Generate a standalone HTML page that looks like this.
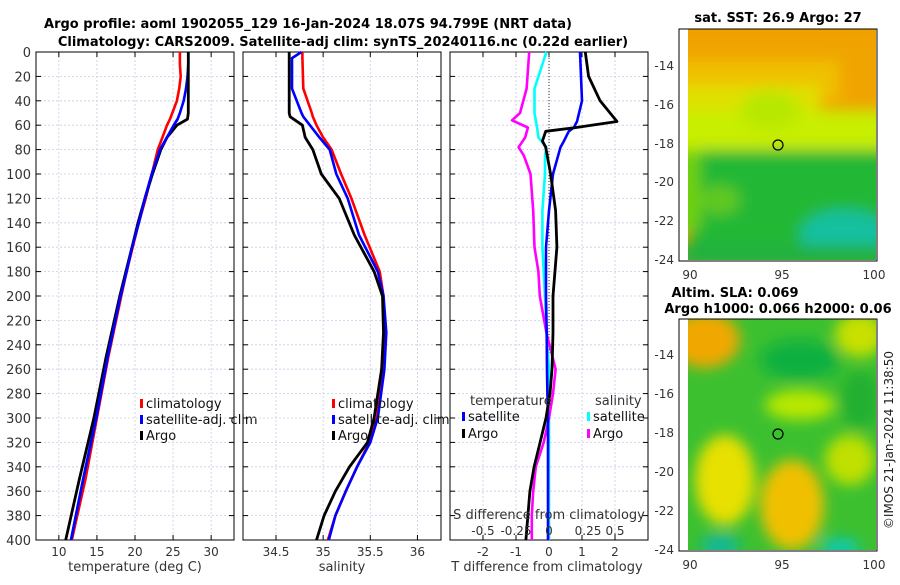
<!DOCTYPE html>
<html><head><meta charset="utf-8"><style>
body{margin:0;background:#fff;}
svg text{font-family:"DejaVu Sans","Liberation Sans",sans-serif;}
</style></head><body>
<svg id="s" width="900" height="580" xmlns="http://www.w3.org/2000/svg">
<defs>
<filter id="bl" x="-50%" y="-50%" width="200%" height="200%"><feGaussianBlur stdDeviation="7"/></filter>
<clipPath id="c1"><rect x="688" y="29" width="188" height="231"/></clipPath>
<clipPath id="c2"><rect x="688" y="319" width="188" height="231"/></clipPath>
</defs>
<text x="308" y="28" text-anchor="middle" font-size="13" font-weight="bold">Argo profile: aoml 1902055_129 16-Jan-2024 18.07S 94.799E (NRT data)</text>
<text x="343" y="46" text-anchor="middle" font-size="13" font-weight="bold">Climatology: CARS2009. Satellite-adj clim: synTS_20240116.nc (0.22d earlier)</text>
<g id="p"></g>
<!-- SST map -->
<g>
<text x="778" y="22" text-anchor="middle" font-size="13" font-weight="bold">sat. SST: 26.9 Argo: 27</text>
<g clip-path="url(#c1)">
<rect x="688" y="29" width="188" height="231" fill="#f0a400"/>
<g filter="url(#bl)">
<rect x="670" y="60" width="170" height="40" fill="#f0c000"/>
<rect x="670" y="85" width="150" height="30" fill="#e0e000"/>
<rect x="670" y="110" width="220" height="45" fill="#c8ee00"/>
<ellipse cx="770" cy="110" rx="30" ry="20" fill="#b8e800"/>
<rect x="690" y="150" width="200" height="120" fill="#22b835"/>
<rect x="670" y="150" width="30" height="80" fill="#70d010"/>
<ellipse cx="720" cy="200" rx="20" ry="15" fill="#60c820"/>
<ellipse cx="845" cy="235" rx="45" ry="25" fill="#18c0a0"/>
<rect x="670" y="245" width="220" height="20" fill="#20b040"/>
</g>
<rect x="670" y="20" width="220" height="20" fill="#f0a000" filter="url(#bl)"/>
</g>
<rect x="679" y="29" width="198" height="232" fill="none" stroke="#000"/>
<circle cx="778" cy="145" r="5" fill="none" stroke="#000" stroke-width="1.2"/>
<g font-size="12" fill="#333">
<text x="674" y="70" text-anchor="end">-14</text><text x="674" y="109" text-anchor="end">-16</text>
<text x="674" y="148" text-anchor="end">-18</text><text x="674" y="186" text-anchor="end">-20</text>
<text x="674" y="225" text-anchor="end">-22</text><text x="674" y="264" text-anchor="end">-24</text>
<text x="690" y="279" text-anchor="middle">90</text><text x="782" y="279" text-anchor="middle">95</text><text x="874" y="279" text-anchor="middle">100</text>
</g>
</g>
<!-- SLA map -->
<g>
<text x="735" y="297" text-anchor="middle" font-size="13" font-weight="bold">Altim. SLA: 0.069</text>
<text x="778" y="313" text-anchor="middle" font-size="13" font-weight="bold">Argo h1000: 0.066 h2000: 0.06</text>
<g clip-path="url(#c2)">
<rect x="688" y="319" width="188" height="231" fill="#3cc030"/>
<g filter="url(#bl)">
<ellipse cx="705" cy="340" rx="35" ry="28" fill="#f0a800"/>
<ellipse cx="860" cy="335" rx="25" ry="22" fill="#c8e000"/>
<ellipse cx="800" cy="360" rx="40" ry="20" fill="#10b040"/>
<ellipse cx="800" cy="405" rx="35" ry="15" fill="#b8e800"/>
<ellipse cx="725" cy="480" rx="30" ry="45" fill="#e8e000"/>
<ellipse cx="792" cy="505" rx="32" ry="45" fill="#f0c000"/>
<ellipse cx="850" cy="460" rx="25" ry="25" fill="#c0e000"/>
<ellipse cx="720" cy="545" rx="20" ry="10" fill="#10b8a0"/>
<ellipse cx="840" cy="548" rx="20" ry="10" fill="#10c8b0"/>
<ellipse cx="860" cy="400" rx="20" ry="30" fill="#20b030"/>
</g>
</g>
<rect x="679" y="319" width="198" height="232" fill="none" stroke="#000"/>
<circle cx="778" cy="434" r="5" fill="none" stroke="#000" stroke-width="1.2"/>
<g font-size="12" fill="#333">
<text x="674" y="359" text-anchor="end">-14</text><text x="674" y="398" text-anchor="end">-16</text>
<text x="674" y="437" text-anchor="end">-18</text><text x="674" y="476" text-anchor="end">-20</text>
<text x="674" y="515" text-anchor="end">-22</text><text x="674" y="554" text-anchor="end">-24</text>
<text x="690" y="569" text-anchor="middle">90</text><text x="782" y="569" text-anchor="middle">95</text><text x="874" y="569" text-anchor="middle">100</text>
</g>
</g>
<text transform="translate(893,440) rotate(-90)" text-anchor="middle" font-size="12" fill="#222">©IMOS 21-Jan-2024 11:38:50</text>
</svg>
<script>
const depths=[0,10,20,30,40,50,55,60,70,80,100,120,140,160,180,200,250,300,350,400];
const tClim=[25.9,25.9,26.0,25.8,25.5,24.9,24.6,24.2,23.6,23.0,22.2,21.4,20.5,19.7,18.9,18.2,16.5,15.0,13.5,11.7];
const tSat=[27.0,27.0,26.9,26.7,26.4,25.9,25.6,25.1,24.2,23.3,22.2,21.3,20.5,19.6,18.9,18.1,16.4,14.9,13.2,11.6];
const tArgo=[27.0,27.0,27.0,27.0,27.0,27.0,26.9,25.5,24.2,23.4,22.3,21.3,20.4,19.6,18.8,18.0,16.2,14.6,12.7,10.9];
const sDepths=[0,5,30,50,53,60,70,80,100,120,150,180,200,230,260,300,320,340,360,380,400];
const sClim=[34.78,34.78,34.79,34.88,34.89,34.93,35.0,35.09,35.19,35.30,35.44,35.60,35.64,35.65,35.63,35.57,35.49,35.36,35.24,35.13,35.05];
const sSat=[34.77,34.67,34.67,34.77,34.79,34.86,34.96,35.07,35.14,35.26,35.38,35.58,35.64,35.67,35.65,35.58,35.50,35.36,35.24,35.13,35.06];
const sArgo=[34.64,34.64,34.64,34.64,34.65,34.78,34.81,34.89,34.98,35.17,35.33,35.54,35.63,35.64,35.62,35.54,35.47,35.28,35.13,35.01,34.93];
const dDepths=[0,20,40,57,62,65,73,78,100,130,160,200,230,260,280,300,320,340,360,380,400];
const dtArgo=[1.1,1.2,1.55,2.06,0.8,-0.1,-0.2,-0.1,0.05,0.2,0.24,0.12,0.12,0.09,0.03,-0.09,-0.27,-0.45,-0.58,-0.64,-0.7];
const dtSat=[0.94,0.97,1.0,0.85,0.75,0.6,0.45,0.35,0.12,0.0,-0.09,-0.09,-0.07,-0.06,-0.05,-0.03,-0.03,-0.03,-0.03,-0.03,-0.03];
const mDepths=[0,30,50,56,62,70,78,85,100,130,160,180,200,230,260,280,300,320,340,360,380,400];
const dsArgo=[-0.15,-0.17,-0.22,-0.28,-0.16,-0.18,-0.23,-0.19,-0.14,-0.12,-0.11,-0.08,-0.07,-0.02,0.05,0.03,0.0,-0.04,-0.1,-0.12,-0.13,-0.13];
const dsSat=[-0.02,-0.11,-0.11,-0.10,-0.09,-0.08,-0.02,-0.03,-0.03,-0.05,-0.05,-0.04,-0.03,-0.02,0.0,0.0,0.0,0.0,0.0,0.0,0.0,0.0];
const yTicks=[0,20,40,60,80,100,120,140,160,180,200,220,240,260,280,300,320,340,360,380,400];
const sTicks=[-0.5,-0.25,0,0.25,0.5];
const sTickLabels=['-0.5','-0.25','0','0.25','0.5'];

const NS='http://www.w3.org/2000/svg';
const g=document.getElementById('p');
const Y0=52,Y1=540;
function y(d){return Y0+(d/400)*(Y1-Y0);}
function mk(t,a,parent){const e=document.createElementNS(NS,t);for(const k in a)e.setAttribute(k,a[k]);(parent||g).appendChild(e);return e;}
function txt(x,yy,s,size,anchor,parent){const e=mk('text',{x:x,y:yy,'font-size':size,'text-anchor':anchor||'middle',fill:'#333'},parent);e.textContent=s;return e;}
function panel(x0,x1,lo,hi,xt,xl,name){
  const sx=v=>x0+(v-lo)/(hi-lo)*(x1-x0);
  const pg=mk('g',{});
  
  
  yTicks.forEach(d=>{mk('line',{x1:x0,x2:x1,y1:y(d),y2:y(d),stroke:'#c8cce8','stroke-dasharray':'2,2','stroke-width':0.8},pg);
    mk('line',{x1:x0,x2:x0+5,y1:y(d),y2:y(d),stroke:'#000'},pg);mk('line',{x1:x1-5,x2:x1,y1:y(d),y2:y(d),stroke:'#000'},pg);});
  xt.forEach((v,i)=>{const X=sx(v);mk('line',{x1:X,x2:X,y1:Y0,y2:Y1,stroke:'#d0c8e0','stroke-dasharray':'2,2','stroke-width':0.8},pg);
    mk('line',{x1:X,x2:X,y1:Y1-5,y2:Y1,stroke:'#000'},pg);mk('line',{x1:X,x2:X,y1:Y0,y2:Y0+5,stroke:'#000'},pg);
    txt(X,Y1+16,xl[i],12,'middle',pg);});
  mk('rect',{x:x0,y:Y0,width:x1-x0,height:Y1-Y0,fill:'none',stroke:'#000'},pg);
  return {sx:sx,g:pg};
}
function line(P,xs,ds,col,name,w){
  let d='';xs.forEach((v,i)=>{d+=(i?'L':'M')+P.sx(v).toFixed(1)+','+y(ds[i]).toFixed(1);});
  const e=mk('path',{d:d,fill:'none',stroke:col,'stroke-width':w||2.6,'stroke-linejoin':'round'},P.g);
  
  
}
function leg(P,x,yy,col,label,name){
  const lg=mk('g',{},P.g);
  
  
  mk('rect',{x:x,y:yy-9,width:3,height:9,fill:col},lg);
  const t=mk('text',{x:x+6,y:yy,'font-size':13,fill:'#111'},lg);t.textContent=label;
}
yTicks.forEach(d=>{txt(31,y(d)+5,String(d),13,'end');});
// Temperature
const P1=panel(36,234,7,33,[10,15,20,25,30],['10','15','20','25','30'],'temperature-panel');
line(P1,tClim,depths,'#f00','temp-climatology-line');
line(P1,tSat,depths,'#00f','temp-satellite-line');
line(P1,tArgo,depths,'#000','temp-argo-line',2.8);
line(P1,tSat.slice(6),depths.slice(6),'#00f','temp-satellite-line-top');
leg(P1,140,408,'#f00','climatology','legend-climatology');
leg(P1,140,424,'#00f','satellite-adj. clim','legend-satellite-adj');
leg(P1,140,440,'#000','Argo','legend-argo');
txt(135,571,'temperature (deg C)',13,'middle',P1.g);
// Salinity
const P2=panel(243,441,34.15,36.25,[34.5,35,35.5,36],['34.5','35','35.5','36'],'salinity-panel');
line(P2,sClim,sDepths,'#f00','sal-climatology-line');
line(P2,sSat,sDepths,'#00f','sal-satellite-line');
line(P2,sArgo,sDepths,'#000','sal-argo-line',2.8);
leg(P2,332,408,'#f00','climatology','legend-climatology-2');
leg(P2,332,424,'#00f','satellite-adj. clim','legend-satellite-adj-2');
leg(P2,332,440,'#000','Argo','legend-argo-2');
txt(342,571,'salinity',13,'middle',P2.g);
// Difference
const P3=panel(450,648,-3,3,[-2,-1,0,1,2],['-2','-1','0','1','2'],'difference-panel');
const sS=v=>549+v*132;
mk('line',{x1:P3.sx(0),x2:P3.sx(0),y1:Y0,y2:Y1,stroke:'#333','stroke-dasharray':'1,2'},P3.g);
const PS={sx:sS,g:P3.g};
line(PS,dsSat,mDepths,'#0ff','sal-diff-satellite-line');
line(PS,dsArgo,mDepths,'#f0f','sal-diff-argo-line');
line(P3,dtSat,dDepths,'#00f','temp-diff-satellite-line');
line(P3,dtArgo,dDepths,'#000','temp-diff-argo-line',2.8);
txt(470,405,'temperature',13,'start',P3.g);
leg(P3,462,421,'#00f','satellite','legend-temp-satellite');
leg(P3,462,438,'#000','Argo','legend-temp-argo');
txt(595,405,'salinity',13,'start',P3.g);
leg(P3,587,421,'#0ff','satellite','legend-sal-satellite');
leg(P3,587,438,'#f0f','Argo','legend-sal-argo');
txt(549,519,'S difference from climatology',13,'middle',P3.g);
sTicks.forEach((v,i)=>txt(sS(v)+(v===0.25?6:0),535,sTickLabels[i],12,'middle',P3.g));
txt(547,571,'T difference from climatology',13,'middle',P3.g);
</script>
</body></html>
